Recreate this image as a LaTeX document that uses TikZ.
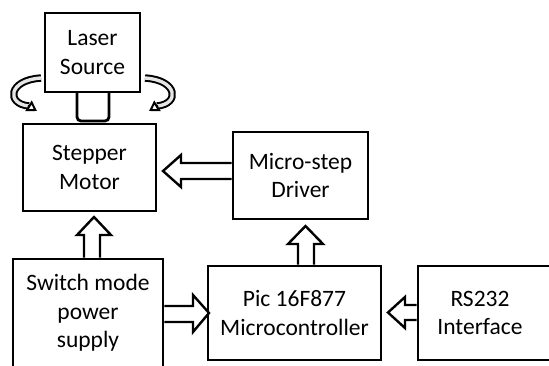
\documentclass[tikz,border=0pt]{standalone}
\usepackage{fontspec}
\setmainfont{Carlito}
\usetikzlibrary{arrows.meta,calc}
\begin{document}
\begin{tikzpicture}[x=1pt,y=-1pt,
  box/.style={draw=black,line width=2.8pt,fill=white,inner sep=0pt,align=center,
    font=\fontsize{23.5}{28.7}\selectfont},
  lbl/.style={inner sep=0pt,align=center,font=\fontsize{23.5}{28.7}\selectfont},
  blk/.style={draw=black,line width=2.4pt,fill=white,line join=miter},
  curv/.style={draw=black,line width=2pt,double=gray!20,double distance=3.4pt},
  curvtip/.style={-{Triangle[open,length=10pt,width=12pt,line width=2pt]},line width=2pt}
]
\useasboundingbox (0,0) rectangle (549,365);
\clip (0,0) rectangle (549,365);
% boxes
\node[box,minimum width=95pt,minimum height=79pt] (laser) at (92.5,52.5) {Laser\\Source};
\draw[line width=2.8pt,rounded corners=4pt] (77,92) -- (77,121) -- (109,121) -- (109,92);
\node[box,minimum width=133pt,minimum height=87pt] (stepper) at (89.5,167.5) {Stepper\\Motor};
\node[box,minimum width=135pt,minimum height=87pt] (driver) at (300.5,175.5) {Micro-step\\Driver};
\node[box,minimum width=150pt,minimum height=111pt] (smps) at (88,314.5) {};
\node[lbl] (smpst) at (88,313) {Switch mode\\power\\supply};
\node[box,minimum width=173pt,minimum height=94pt] (mcu) at (294.5,313) {Pic 16F877\\Microcontroller};
\node[box,minimum width=152pt,minimum height=94pt] (rs) at (494,313) {};
\node[lbl] (rst) at (480,313) {RS232\\Interface};
% block arrows
\draw[blk] (driver.west |- 0,163) -- (181,163) -- (181,155) -- (163,171) -- (181,187) -- (181,179) -- (driver.west |- 0,179);
\draw[blk] (298,0 |- mcu.north) -- (298,244) -- (288,244) -- (305.5,226) -- (323,244) -- (314,244) -- (314,0 |- mcu.north);
\draw[blk] (84,0 |- smps.north) -- (84,235) -- (77,235) -- (94,217) -- (111,235) -- (100,235) -- (100,0 |- smps.north);
\draw[blk] (smps.east |- 0,306) -- (193,306) -- (193,295) -- (209,313) -- (193,332) -- (193,322) -- (smps.east |- 0,322);
\draw[blk] (rs.west |- 0,305) -- (405,305) -- (405,297) -- (388,312.5) -- (405,328) -- (405,320) -- (rs.west |- 0,320);
% rotation arrows
\draw[curv] (41,78) .. controls (8,80) and (6,104) .. (29,106);
\draw[curvtip] (28,105.5) -- (37,111);
\draw[curv] (145,78) .. controls (178,80) and (180,104) .. (157,106);
\draw[curvtip] (158,105.5) -- (149,111);
\end{tikzpicture}
\end{document}
